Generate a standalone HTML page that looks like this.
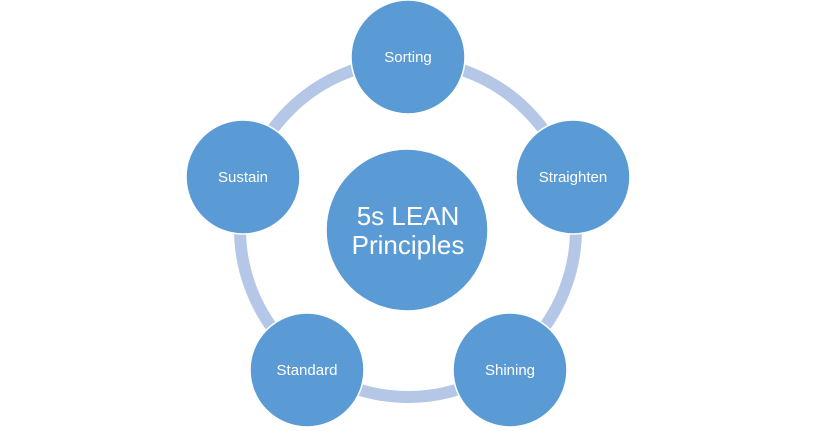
<!DOCTYPE html>
<html><head><style>
html,body{margin:0;padding:0;background:#fff;width:816px;height:431px;overflow:hidden}
</style></head><body>
<svg width="816" height="431" viewBox="0 0 816 431" xmlns="http://www.w3.org/2000/svg" font-family="'Liberation Sans', sans-serif">
<circle cx="408" cy="229" r="168" fill="none" stroke="#b4c7e7" stroke-width="12"/>
<g fill="#5b9bd5" stroke="#fff" stroke-width="1.5">
<circle cx="407" cy="230" r="81"/>
<circle cx="408" cy="57" r="57"/>
<circle cx="573" cy="177" r="57"/>
<circle cx="510" cy="370" r="57"/>
<circle cx="307" cy="370" r="57"/>
<circle cx="243" cy="177" r="57"/>
</g>
<g fill="#fff" font-size="15" text-anchor="middle">
<text x="408" y="62">Sorting</text>
<text x="573" y="182">Straighten</text>
<text x="510" y="375">Shining</text>
<text x="307" y="375">Standard</text>
<text x="243" y="182">Sustain</text>
<text x="408" y="225" font-size="26">5s LEAN</text>
<text x="408" y="254" font-size="26">Principles</text>
</g>
</svg>
</body></html>
